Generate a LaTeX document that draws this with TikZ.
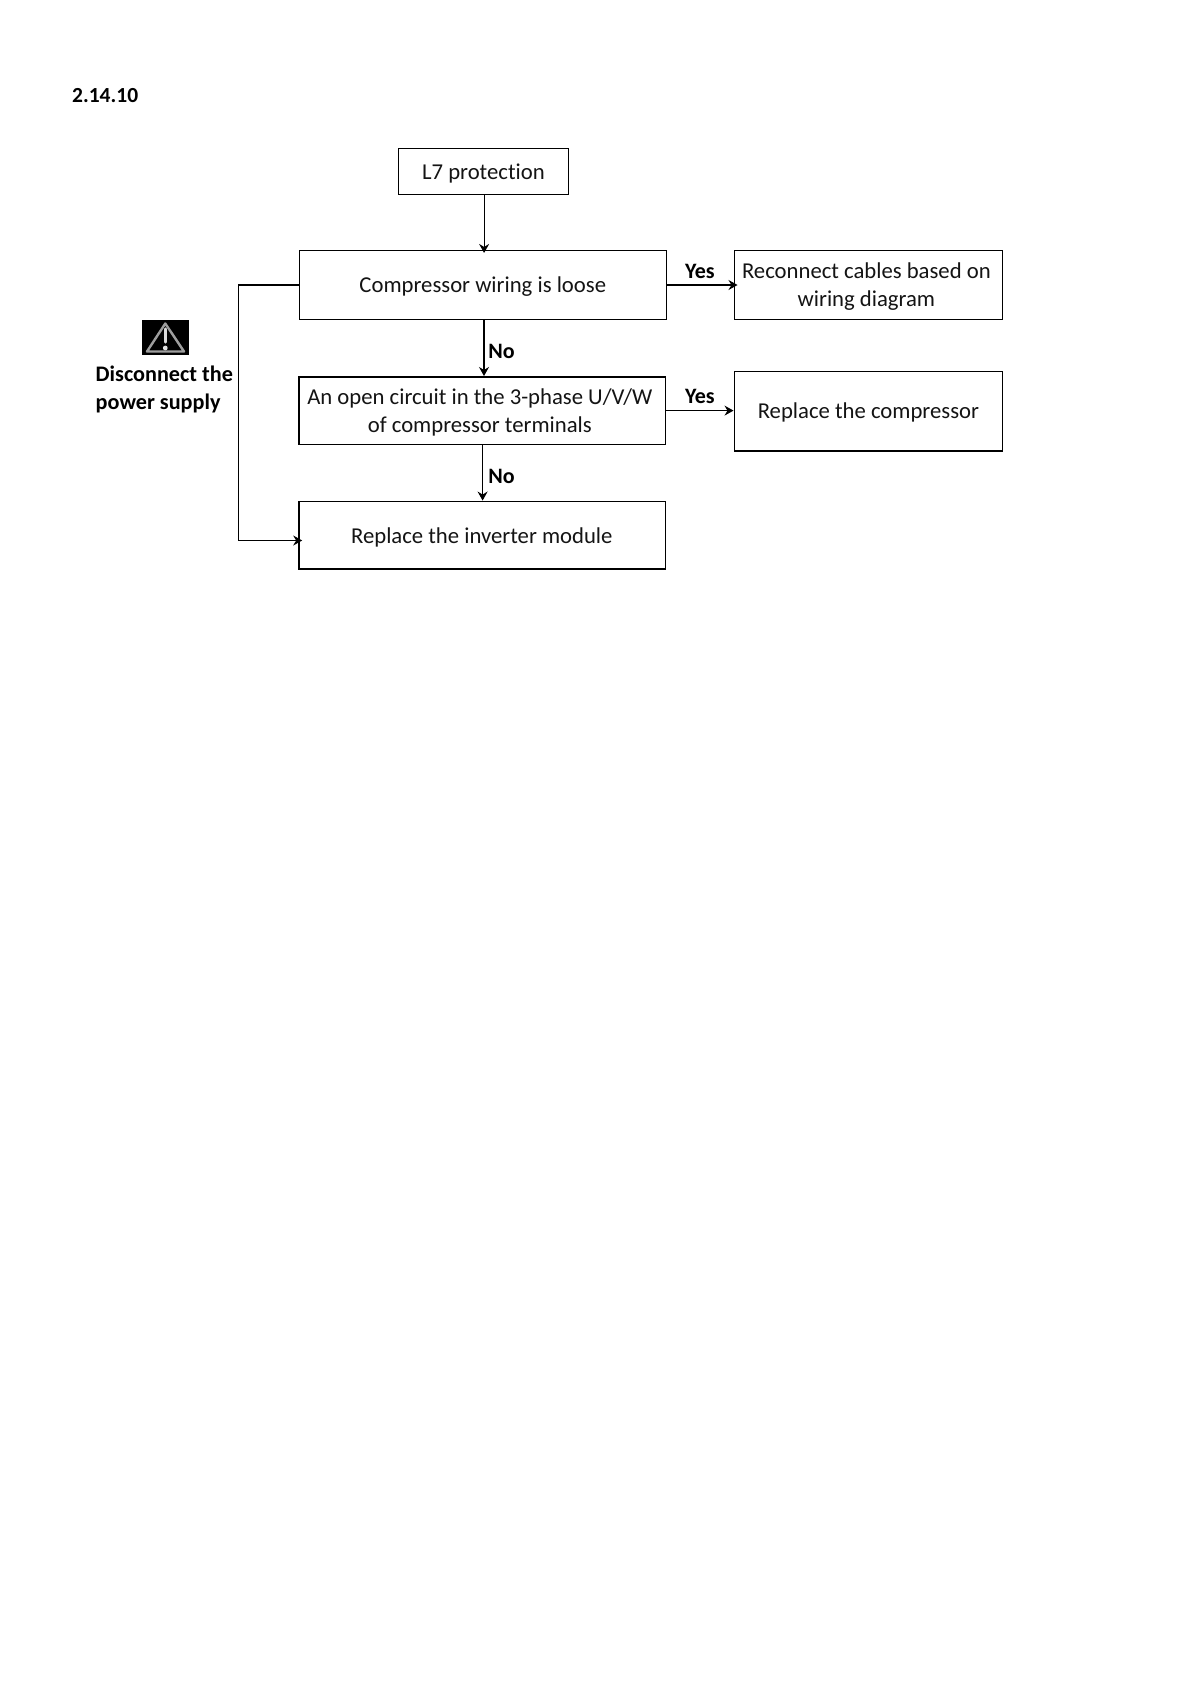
\documentclass[tikz,border=0pt]{standalone}
\usepackage{fontspec}
\setmainfont[Ligatures=CommonOff]{Carlito}
\usetikzlibrary{arrows.meta}
\tikzset{
  x=1pt,y=-1pt,
  flowbox/.style={draw=black,line width=1.1pt,inner sep=0pt},
  thickbox/.style={flowbox,line width=1.6pt},
  boxtext/.style={inner sep=0pt,align=center,font=\fontsize{22.7}{27.5}\selectfont,text=black!92},
  wire/.style={draw=black,line width=1.1pt,-{Stealth[length=9pt,width=10pt,inset=3pt]}},
  lab/.style={font=\bfseries\fontsize{22}{26}\selectfont,inner sep=0pt},
}
\begin{document}
\begin{tikzpicture}
\useasboundingbox[fill=white] (0,0) rectangle (1191,1684);
\node[lab,anchor=west,font=\bfseries\fontsize{21.5}{26}\selectfont] (title) at (72,96) {2.14.10};
\node[flowbox,minimum width=170.2pt,minimum height=46.3pt] (l7) at (483.4,171.2) {};
\node[flowbox,minimum width=367pt,minimum height=69pt] (comp) at (483.3,285) {};
\node[thickbox,minimum width=366.6pt,minimum height=67.6pt] (open) at (482.3,410.6) {};
\node[thickbox,minimum width=366.6pt,minimum height=67.7pt] (rep) at (482.3,535.2) {};
\node[flowbox,minimum width=268.7pt,minimum height=69pt] (rec) at (868.4,285) {};
\node[flowbox,minimum width=268.7pt,minimum height=79.5pt] (rcomp) at (868.4,411.2) {};
\node[boxtext] (t1) at ([yshift=-2pt]l7.center) {L7 protection};
\node[boxtext] (t2) at ([yshift=-1.5pt,xshift=-0.5pt]comp.center) {Compressor wiring is loose};
\node[boxtext] (t3) at ([yshift=-2pt,xshift=-2.5pt]open.center) {An open circuit in the 3-phase U/V/W\\of compressor terminals};
\node[boxtext] (t4) at ([yshift=-2pt,xshift=-0.5pt]rep.center) {Replace the inverter module};
\node[boxtext] (t5) at ([yshift=-1.5pt,xshift=-2pt]rec.center) {Reconnect cables based on\\wiring diagram};
\node[boxtext] (t6) at ([yshift=-1.5pt]rcomp.center) {Replace the compressor};
\coordinate (a1) at ([xshift=0.7pt]l7.south);
\coordinate (a2) at ([xshift=0.7pt]comp.south);
\coordinate (a3) at ([xshift=0.3pt]open.south);
\coordinate (b0) at (comp.west);
\coordinate (b1) at ([xshift=-61.2pt]b0);
\coordinate (b2) at ([yshift=-255.5pt]b1);
\draw[wire,shorten >=-3pt] (a1) -- (a1 |- comp.north);
\draw[wire] (a2) -- (a2 |- open.north);
\draw[wire] (a3) -- (a3 |- rep.north);
\draw[wire,shorten >=-4pt] (comp.east) -- (comp.east -| rec.west);
\draw[wire] (open.east) -- (open.east -| rcomp.west);
\draw[wire,shorten >=-4pt] (b0) -- (b1) -- (b2) -- (b2 -| rep.west);
\node[lab] (y1) at (700,271.5) {Yes};
\node[lab] (y2) at (700,396) {Yes};
\node[lab] (n1) at (501.5,351) {No};
\node[lab] (n2) at (501.5,476) {No};
\node[lab,anchor=west,align=left,font=\fontsize{22.2}{28}\selectfont\bfseries] (warn) at (95.5,389.5) {Disconnect the\\power supply};
\fill[black] (141.7,320) rectangle (189,355);
\draw[black!38,line width=2.4pt,line join=round] (165.3,323.5) -- (184,351.5) -- (147,351.5) -- cycle;
\draw[black!15,line width=3.4pt,line cap=round] (165.3,329) -- (165.3,342);
\fill[black!12] (165.3,348) circle (2.4pt);
\end{tikzpicture}
\end{document}
